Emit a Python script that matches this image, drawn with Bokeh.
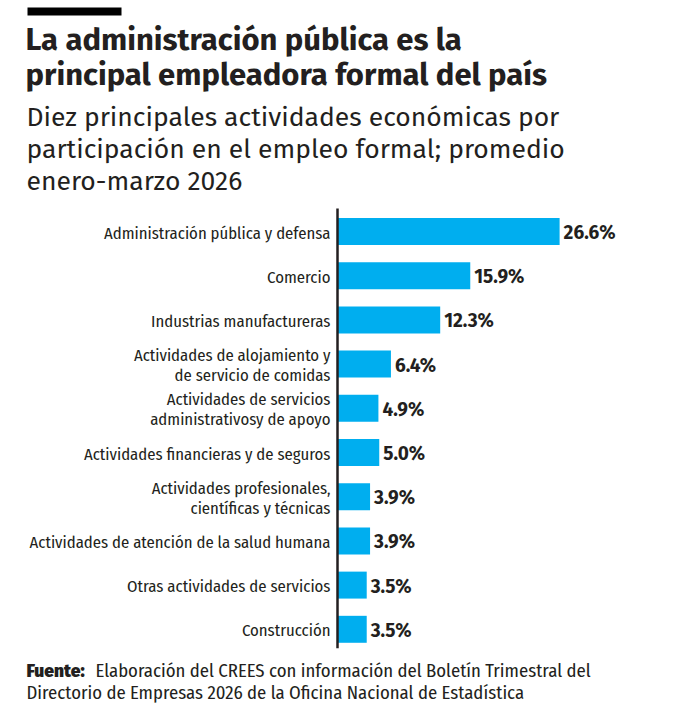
from bokeh.plotting import figure
from bokeh.models import Range1d, Label, BoxAnnotation, ColumnDataSource
from bokeh.core.properties import value
from bokeh.embed import file_html
from bokeh.resources import INLINE

# Ten main economic activities by share of formal employment (%)
categories = [
    "Administración pública y defensa",
    "Comercio",
    "Industrias manufactureras",
    "Actividades de alojamiento y\nde servicio de comidas",
    "Actividades de servicios\nadministrativosy de apoyo",
    "Actividades financieras y de seguros",
    "Actividades profesionales,\ncientíficas y técnicas",
    "Actividades de atención de la salud humana",
    "Otras actividades de servicios",
    "Construcción",
]
shares = [26.6, 15.9, 12.3, 6.4, 4.9, 5.0, 3.9, 3.9, 3.5, 3.5]
share_labels = [f"{v:.1f}%" for v in shares]

W, H = 684, 712
COND = "'Fira Sans Condensed', 'DejaVu Sans Condensed', sans-serif"
SANS = "'Fira Sans', 'DejaVu Sans', sans-serif"
HEAVY = "'Fira Sans Black', 'Fira Sans', sans-serif"
INK = "#231f20"
BAR = "#00aeef"

# plot geometry: pixels per percentage point, bar origin, row pitch
PX_PER_PCT = 8.35
X0 = 337
ROW = 44.2
FIRST_ROW = 231

xmin = -X0 / PX_PER_PCT
xmax = xmin + W / PX_PER_PCT
ytop = -FIRST_ROW / ROW
ybot = ytop + H / ROW

p = figure(width=W, height=H, output_backend="svg", toolbar_location=None,
           x_range=Range1d(xmin, xmax), y_range=Range1d(ybot, ytop),
           min_border=0, min_border_left=0, min_border_right=0,
           min_border_top=0, min_border_bottom=0)
p.axis.visible = False
p.grid.visible = False
p.outline_line_color = None
p.background_fill_color = "white"
p.border_fill_color = "white"

n = len(categories)
src = ColumnDataSource(dict(
    y=list(range(n)), share=shares, cat=categories, lab=share_labels,
))

p.hbar(y="y", left=0, right="share", height=0.61, source=src,
       fill_color=BAR, line_color=None)

# vertical baseline of the bars
p.segment(x0=[0], y0=[-0.52], x1=[0], y1=[n - 0.57],
          line_color=INK, line_width=2.5)

p.text(x=0, y="y", text="cat", source=src, x_offset=-7, y_offset=1,
       text_align="right", text_baseline="middle", text_line_height=1.02,
       text_font=value(COND), text_font_size="16.7px", text_color=INK)

p.text(x="share", y="y", text="lab", source=src, x_offset=4, y_offset=1,
       text_align="left", text_baseline="middle",
       text_font=value(SANS), text_font_style="bold",
       text_font_size="19px", text_color=INK)

# short black rule above the headline
p.add_layout(BoxAnnotation(left=27, right=121, top=H - 7, bottom=H - 15,
                           left_units="screen", right_units="screen",
                           top_units="screen", bottom_units="screen",
                           fill_color="black", fill_alpha=1, line_color=None))

def label(text, x, baseline, size, font=COND, bold=False):
    # the label anchor sits about 0.3 em above the drawn baseline
    p.add_layout(Label(x=x, y=H - (baseline - 0.3 * size), x_units="screen", y_units="screen",
                       text=text, text_font=font, text_font_size=f"{size}px",
                       text_font_style="bold" if bold else "normal",
                       text_color=INK, text_baseline="alphabetic"))

label("La administración pública es la", 25, 48, 31, font=SANS, bold=True)
label("principal empleadora formal del país", 25, 83, 31, font=SANS, bold=True)
label("Diez principales actividades económicas por", 26, 124, 26.5, font=SANS)
label("participación en el empleo formal; promedio", 26, 156, 26.5, font=SANS)
label("enero-marzo 2026", 26, 188, 26.5, font=SANS)

label("Fuente:", 26, 676, 17.5, font=HEAVY)
label("Elaboración del CREES con información del Boletín Trimestral del", 95, 676, 18.7)
label("Directorio de Empresas 2026 de la Oficina Nacional de Estadística", 26, 698, 18.7)

open("out.html", "w").write(file_html(p, INLINE))
